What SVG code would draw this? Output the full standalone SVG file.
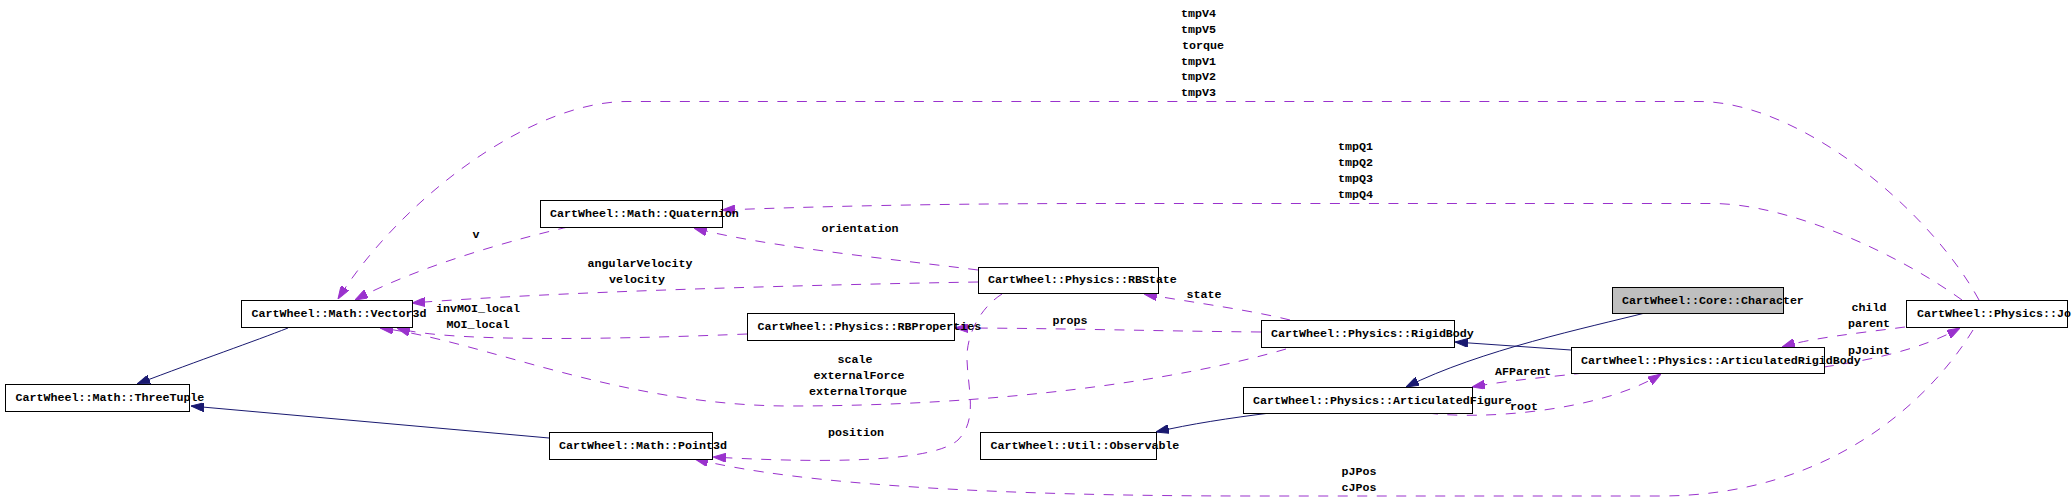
<svg xmlns="http://www.w3.org/2000/svg" width="2072" height="501" viewBox="0 0 2072 501">
<style>
.node rect{fill:#fff;stroke:#000;stroke-width:1}
.node.hl rect{fill:#bfbfbf}
text{font-family:"Liberation Mono","DejaVu Sans Mono",monospace;font-size:11.67px;font-weight:bold;fill:#000}
.lbl{text-anchor:middle}
.dep{fill:none;stroke:#9a32cd;stroke-width:1;stroke-dasharray:10,9.5;marker-end:url(#ap)}
.inh{fill:none;stroke:#191970;stroke-width:1;marker-end:url(#an)}
</style>
<defs>
<marker id="ap" viewBox="0 0 13 9" refX="13" refY="4.5" markerWidth="13" markerHeight="9" markerUnits="userSpaceOnUse" orient="auto"><path d="M0,0 L13,4.5 L0,9 Z" fill="#9a32cd" stroke="#9a32cd" stroke-width="1"/></marker>
<marker id="an" viewBox="0 0 13 9" refX="13" refY="4.5" markerWidth="13" markerHeight="9" markerUnits="userSpaceOnUse" orient="auto"><path d="M0,0 L13,4.5 L0,9 Z" fill="#191970" stroke="#191970" stroke-width="1"/></marker>
</defs>
<rect width="2072" height="501" fill="#fff"/>
<g id="connectors">
<g id="e-vector3d-threetuple"><path class="inh" d="M288,328 C255,341 200,360 137,384"/></g>
<g id="e-point3d-threetuple"><path class="inh" d="M549,438 L191,406"/></g>
<g id="e-quaternion-vector3d"><path class="dep" d="M568,227 C520,238 420,265 355,300"/><text class="lbl" x="476" y="238">v</text></g>
<g id="e-joint-vector3d"><path class="dep" d="M1979,300 C1930,210 1800,101.5 1699,101.5 L627,101.5 C530,101.5 400,200 338,299"/>
<text x="1181" y="17">tmpV4</text><text x="1181" y="33">tmpV5</text><text x="1182" y="49">torque</text><text x="1181" y="65">tmpV1</text><text x="1181" y="80">tmpV2</text><text x="1181" y="96">tmpV3</text></g>
<g id="e-joint-quaternion"><path class="dep" d="M1962,300 C1900,255 1790,203.5 1712,203.5 L1100,203.5 C900,203.5 780,208 722,210"/>
<text x="1338" y="150">tmpQ1</text><text x="1338" y="166">tmpQ2</text><text x="1338" y="182">tmpQ3</text><text x="1338" y="198">tmpQ4</text></g>
<g id="e-rbstate-quaternion"><path class="dep" d="M978,270 C900,260 760,246 694,228"/><text class="lbl" x="860" y="232">orientation</text></g>
<g id="e-rbstate-vector3d"><path class="dep" d="M978,282 C800,285 550,292 412,303"/><text class="lbl" x="640" y="267">angularVelocity</text><text class="lbl" x="637" y="283">velocity</text></g>
<g id="e-rbproperties-vector3d"><path class="dep" d="M747,334 C650,338 450,344 397,328"/><text class="lbl" x="478" y="312">invMOI_local</text><text class="lbl" x="478" y="328">MOI_local</text></g>
<g id="e-rigidbody-vector3d"><path class="dep" d="M1286,349 C1180,380 1000,406 790,406 C620,406 480,340 380,328"/><text class="lbl" x="855" y="363">scale</text><text class="lbl" x="859" y="379">externalForce</text><text class="lbl" x="858" y="395">externalTorque</text></g>
<g id="e-rigidbody-rbstate"><path class="dep" d="M1290,320 C1250,310 1190,302 1144,294"/><text class="lbl" x="1204" y="298">state</text></g>
<g id="e-rigidbody-rbproperties"><path class="dep" d="M1261,332 C1150,331 1050,328 955,328"/><text class="lbl" x="1070" y="324">props</text></g>
<g id="e-rbstate-point3d"><path class="dep" d="M1002,294 C980,308 966,335 967,360 C968,390 978,420 958,440 C930,465 800,462 713,457"/><text class="lbl" x="856" y="436">position</text></g>
<g id="e-joint-point3d"><path class="dep" d="M1973,330 C1930,400 1830,496 1660,496 L1250,496 C1000,496 800,485 695,459"/><text class="lbl" x="1359" y="475">pJPos</text><text class="lbl" x="1359" y="491">cJPos</text></g>
<g id="e-character-articulatedfigure"><path class="inh" d="M1645,313 C1590,327 1480,350 1406,387"/></g>
<g id="e-articulatedrigidbody-rigidbody"><path class="inh" d="M1571,350 L1455,342"/></g>
<g id="e-articulatedfigure-observable"><path class="inh" d="M1270,413 C1230,418 1190,424 1156,432"/></g>
<g id="e-articulatedrigidbody-articulatedfigure"><path class="dep" d="M1584,373 C1550,377 1510,380 1472,387"/><text class="lbl" x="1523" y="375">AFParent</text></g>
<g id="e-articulatedfigure-articulatedrigidbody"><path class="dep" d="M1428,413 C1480,420 1600,412 1661,374"/><text class="lbl" x="1524" y="410">root</text></g>
<g id="e-joint-articulatedrigidbody"><path class="dep" d="M1905,327 C1860,333 1810,338 1782,347"/><text class="lbl" x="1869" y="311">child</text><text class="lbl" x="1869" y="327">parent</text></g>
<g id="e-articulatedrigidbody-joint"><path class="dep" d="M1824,367 C1870,360 1920,350 1960,328"/><text class="lbl" x="1869" y="354">pJoint</text></g>
</g>
<g id="n-threetuple" class="node"><rect x="5.5" y="384.5" width="184" height="27"/><text x="15.5" y="401">CartWheel::Math::ThreeTuple</text></g>
<g id="n-vector3d" class="node"><rect x="241.5" y="300.5" width="171" height="27"/><text x="251.5" y="317">CartWheel::Math::Vector3d</text></g>
<g id="n-quaternion" class="node"><rect x="540.5" y="200.5" width="182" height="27"/><text x="550" y="217">CartWheel::Math::Quaternion</text></g>
<g id="n-rbstate" class="node"><rect x="978.5" y="267.5" width="180" height="26"/><text x="988" y="283">CartWheel::Physics::RBState</text></g>
<g id="n-rbproperties" class="node"><rect x="747.5" y="313.5" width="207" height="27"/><text x="757.5" y="330">CartWheel::Physics::RBProperties</text></g>
<g id="n-point3d" class="node"><rect x="549.5" y="432.5" width="163" height="27"/><text x="559" y="449">CartWheel::Math::Point3d</text></g>
<g id="n-observable" class="node"><rect x="980.5" y="432.5" width="176" height="27"/><text x="990.5" y="449">CartWheel::Util::Observable</text></g>
<g id="n-rigidbody" class="node"><rect x="1261.5" y="320.5" width="193" height="27"/><text x="1271" y="337">CartWheel::Physics::RigidBody</text></g>
<g id="n-articulatedfigure" class="node"><rect x="1243.5" y="387.5" width="229" height="26"/><text x="1253" y="404">CartWheel::Physics::ArticulatedFigure</text></g>
<g id="n-character" class="node hl"><rect x="1612.5" y="287.5" width="171" height="26"/><text x="1622" y="304">CartWheel::Core::Character</text></g>
<g id="n-articulatedrigidbody" class="node"><rect x="1571.5" y="347.5" width="253" height="26"/><text x="1581" y="364">CartWheel::Physics::ArticulatedRigidBody</text></g>
<g id="n-joint" class="node"><rect x="1906.5" y="300.5" width="161" height="27"/><text x="1917" y="317">CartWheel::Physics::Jo</text></g>
</svg>
